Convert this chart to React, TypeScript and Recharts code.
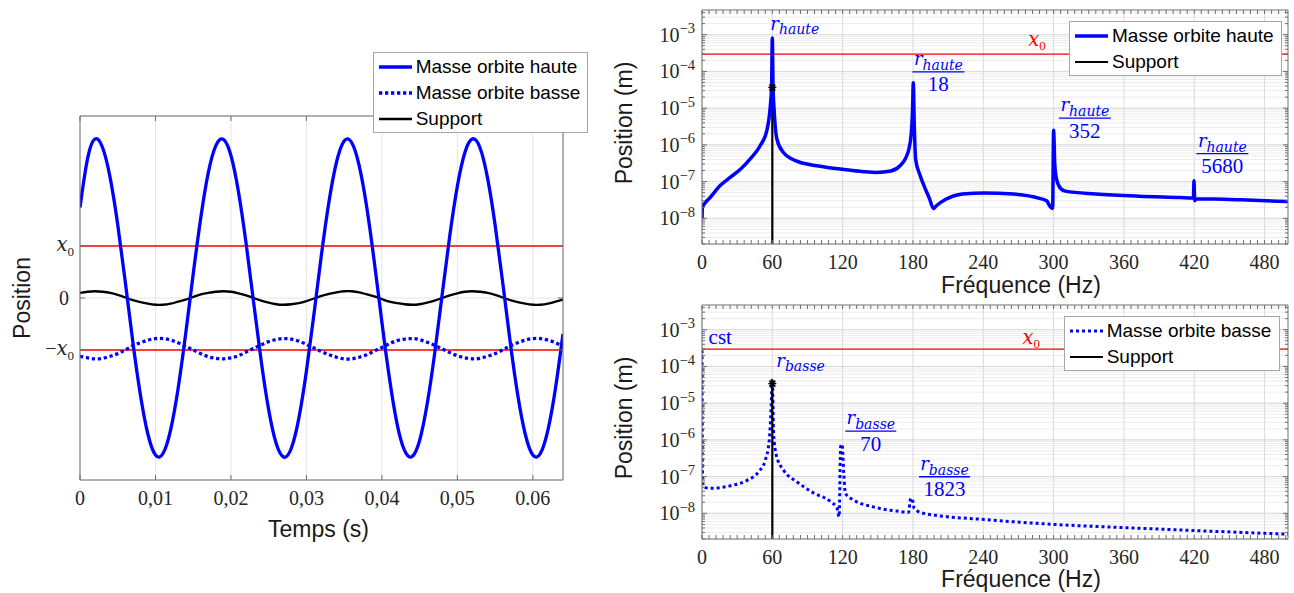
import React from "react";
import { LineChart, Line, XAxis, YAxis, CartesianGrid, ReferenceLine, ReferenceDot, Legend } from "recharts";

const BLUE = "#0000ff";
const RED = "#ff0000";
const AXIS = "#6e6e6e";
const TXT = "#262626";
const SANS = "'Liberation Sans', Arial, sans-serif";
const SERIF = "'Liberation Serif', 'Times New Roman', serif";
const MATH = "'DejaVu Serif', serif";

// ---- left panel: time (s), position in units of x0 ----
const tempsS = [
  0, 0.001, 0.002, 0.003, 0.004, 0.005, 0.006, 0.007, 0.008, 0.009,
  0.01, 0.011, 0.012, 0.013, 0.014, 0.015, 0.016, 0.017, 0.018, 0.019,
  0.02, 0.021, 0.022, 0.023, 0.024, 0.025, 0.026, 0.027, 0.028, 0.029,
  0.03, 0.031, 0.032, 0.033, 0.034, 0.035, 0.036, 0.037, 0.038, 0.039,
  0.04, 0.041, 0.042, 0.043, 0.044, 0.045, 0.046, 0.047, 0.048, 0.049,
  0.05, 0.051, 0.052, 0.053, 0.054, 0.055, 0.056, 0.057, 0.058, 0.059,
  0.06, 0.061, 0.062, 0.063, 0.064,
];
const hauteTemps = [
  1.74, 2.68, 3.06, 2.89, 2.31, 1.41, 0.31, -0.84, -1.86, -2.62,
  -3.02, -2.99, -2.54, -1.74, -0.69, 0.46, 1.54, 2.41, 2.93, 3.05,
  2.74, 2.04, 1.06, -0.08, -1.2, -2.15, -2.8, -3.06, -2.89, -2.31,
  -1.41, -0.31, 0.84, 1.86, 2.62, 3.02, 2.99, 2.54, 1.74, 0.69,
  -0.46, -1.54, -2.41, -2.93, -3.05, -2.74, -2.04, -1.06, 0.08, 1.2,
  2.15, 2.8, 3.06, 2.89, 2.31, 1.41, 0.31, -0.84, -1.86, -2.62,
  -3.02, -2.99, -2.54, -1.74, -0.69,
];
const basseTemps = [
  -1.12, -1.15, -1.17, -1.16, -1.12, -1.07, -1.0, -0.92, -0.86, -0.81,
  -0.78, -0.78, -0.81, -0.86, -0.93, -1.0, -1.07, -1.13, -1.16, -1.17,
  -1.15, -1.11, -1.04, -0.97, -0.9, -0.84, -0.8, -0.78, -0.79, -0.83,
  -0.89, -0.96, -1.03, -1.09, -1.14, -1.17, -1.17, -1.14, -1.09, -1.02,
  -0.95, -0.88, -0.82, -0.79, -0.78, -0.8, -0.85, -0.91, -0.98, -1.05,
  -1.11, -1.15, -1.17, -1.16, -1.12, -1.07, -1.0, -0.92, -0.86, -0.81,
  -0.78, -0.78, -0.81, -0.86, -0.93,
];
const supportTemps = [
  0.1, 0.12, 0.13, 0.12, 0.1, 0.06, 0.01, -0.04, -0.08, -0.11,
  -0.13, -0.13, -0.11, -0.07, -0.03, 0.02, 0.07, 0.1, 0.12, 0.13,
  0.12, 0.09, 0.05, 0.0, -0.05, -0.09, -0.12, -0.13, -0.12, -0.1,
  -0.06, -0.01, 0.04, 0.08, 0.11, 0.13, 0.13, 0.11, 0.07, 0.03,
  -0.02, -0.07, -0.1, -0.12, -0.13, -0.12, -0.09, -0.05, 0.0, 0.05,
  0.09, 0.12, 0.13, 0.12, 0.1, 0.06, 0.01, -0.04, -0.08, -0.11,
  -0.13, -0.13, -0.11, -0.07, -0.03,
];
const tempsTicks = [0, 0.01, 0.02, 0.03, 0.04, 0.05, 0.06];
const tempsTickLabels = ["0", "0,01", "0,02", "0,03", "0,04", "0,05", "0.06"];
const posTicks = [-1, 0, 1];
const legendTemps = ["Masse orbite haute", "Masse orbite basse", "Support"];

// ---- right panels: frequency (Hz), position (m) ----
const hauteFreqHz = [
  0, 0.4, 3, 7, 15.5, 24, 33, 41, 49.5, 55.5, 58.3,
  59.4, 60, 60.6, 61.5, 64, 69.5, 81, 98, 118, 138,
  149, 161, 169, 174, 176.5, 178.5, 179.6, 180.3, 181, 182.3,
  186, 190, 194, 197.5, 200, 208, 222, 241, 266, 288, 294,
  297.5, 299.2, 300, 301, 302.5, 306, 310, 336, 373, 408,
  418.5, 419.3, 419.8, 420.4, 421.5, 460, 500,
];
const hauteAmpM = [
  1.0e-8, 2.0e-8, 2.7e-8, 3.7e-8, 7.8e-8, 1.3e-7, 2.2e-7, 4.1e-7, 9.3e-7, 2.6e-6, 1.15e-5,
  4.0e-5, 8.1e-4, 4.0e-5, 9.3e-6, 1.4e-6, 6.2e-7, 3.6e-7, 2.7e-7, 2.2e-7, 1.86e-7,
  1.78e-7, 1.95e-7, 2.7e-7, 4.5e-7, 7.6e-7, 2.0e-6, 8.0e-6, 4.9e-5, 5.0e-6, 4.0e-7,
  1.5e-7, 7.0e-8, 3.5e-8, 1.86e-8, 2.2e-8, 3.3e-8, 4.6e-8, 4.9e-8, 4.6e-8, 3.5e-8, 3.0e-8,
  2.0e-8, 1.86e-8, 2.5e-6, 3.0e-7, 1.17e-7, 6.5e-8, 5.5e-8, 4.6e-8, 4.0e-8, 3.7e-8,
  3.6e-8, 3.6e-8, 1.05e-7, 3.0e-8, 3.4e-8, 3.2e-8, 2.85e-8,
];
const basseFreqHz = [
  0, 0.5, 1.4, 7, 24, 38.5, 48.3, 54, 57.4, 58.9,
  60, 61.1, 63.4, 69.6, 81, 95, 109.5, 115.2, 117, 118.3,
  119.5, 121, 122.3, 129.4, 146, 166, 176.3, 177.7, 179.2, 181,
  189, 246, 300, 358, 420, 500,
];
const basseAmpM = [
  2.75e-4, 7.2e-8, 5.2e-8, 4.8e-8, 5.6e-8, 7.9e-8, 1.35e-7, 2.8e-7, 9.8e-7, 6.5e-6,
  4.5e-5, 1.5e-6, 3.8e-7, 1.5e-7, 7.2e-8, 3.6e-8, 2.1e-8, 1.38e-8, 8.1e-9, 6.5e-7,
  7.6e-7, 1.23e-7, 3.5e-8, 2.3e-8, 1.5e-8, 1.15e-8, 1.07e-8, 2.3e-8, 2.6e-8, 1.38e-8,
  1.0e-8, 6.6e-9, 5.0e-9, 4.1e-9, 3.4e-9, 2.7e-9,
];
// support stem at 60 Hz (runs off the bottom of the axes)
const supportFreqHz = [60, 60];
const supportHauteM = [3.66e-5, 1e-9];
const supportBasseM = [3.4e-5, 1e-9];
const x0Metres = 2.95e-4;
const freqTicks = [0, 60, 120, 180, 240, 300, 360, 420, 480];
const decades = [-8, -7, -6, -5, -4, -3];
const legendHaute = ["Masse orbite haute", "Support"];
const legendBasse = ["Masse orbite basse", "Support"];

const hauteNotes = [
  { f: 58.3, v: 1.37e-3, kind: "r", sub: "haute" },
  { f: 179.5, v: 9.7e-5, kind: "frac", sub: "haute", den: "18" },
  { f: 304.5, v: 5.37e-6, kind: "frac", sub: "haute", den: "352" },
  { f: 421.8, v: 5.8e-7, kind: "frac", sub: "haute", den: "5680" },
  { f: 278.4, v: 4.82e-4, kind: "x0" },
];
const basseNotes = [
  { f: 5.6, v: 4.17e-4, kind: "cst" },
  { f: 63.4, v: 9.64e-5, kind: "r", sub: "basse" },
  { f: 122.3, v: 1.72e-6, kind: "frac", sub: "basse", den: "70" },
  { f: 185.2, v: 9.9e-8, kind: "frac", sub: "basse", den: "1823" },
  { f: 273.5, v: 4.17e-4, kind: "x0" },
];

const timeData = tempsS.map((t, i) => ({ t, haute: hauteTemps[i], basse: basseTemps[i], support: supportTemps[i] }));
const hauteData = hauteFreqHz.map((f, i) => ({ f, v: hauteAmpM[i] }));
const basseData = basseFreqHz.map((f, i) => ({ f, v: basseAmpM[i] }));
const supportHauteData = supportFreqHz.map((f, i) => ({ f, v: supportHauteM[i] }));
const supportBasseData = supportFreqHz.map((f, i) => ({ f, v: supportBasseM[i] }));

const Y_DOMAIN = [2e-9, 4.7e-3];
const freqMinor = Array.from({ length: 84 }, (_, i) => i * 6);
const logMinor: number[] = [];
for (let e = -9; e <= -3; e++) {
  for (let m = 1; m <= 9; m++) {
    const v = m * Math.pow(10, e);
    if (v >= 1.99e-9 && v <= 4.7e-3) logMinor.push(v);
  }
}
const decadeValues = decades.map((e) => Math.pow(10, e));

// ---- ticks ----
function TimeXTick(props: any) {
  const { x, y, payload, orient } = props;
  const dir = orient === "top" ? 1 : -1;
  const i = tempsTicks.indexOf(payload.value);
  return (
    <g>
      <line x1={x} x2={x} y1={y} y2={y + dir * 5} stroke={AXIS} />
      {orient === "bottom" && i >= 0 && (
        <text x={x} y={y + 25} textAnchor="middle" fontFamily={SERIF} fontSize={20} fill={TXT}>
          {tempsTickLabels[i]}
        </text>
      )}
    </g>
  );
}

function PosTick(props: any) {
  const { x, y, payload, orient } = props;
  const v = payload.value;
  const dir = orient === "left" ? 1 : -1;
  let lab = null;
  if (orient === "left") {
    lab =
      v === 0 ? (
        <text x={x - 11} y={y + 6.5} textAnchor="end" fontFamily={SERIF} fontSize={20} fill={TXT}>0</text>
      ) : (
        <text x={x - 6} y={y + 5} textAnchor="end" fill={TXT}>
          {v < 0 && <tspan fontFamily={SERIF} fontSize={20}>{"\u2212"}</tspan>}
          <tspan fontFamily={MATH} fontStyle="italic" fontSize={19.5}>x</tspan>
          <tspan fontFamily={SERIF} fontSize={13} dy={4.5}>0</tspan>
        </text>
      );
  }
  return (
    <g>
      <line x1={x} x2={x + dir * 5} y1={y} y2={y} stroke={AXIS} />
      {lab}
    </g>
  );
}

function FreqTick(props: any) {
  const { x, y, payload, orient } = props;
  const v = payload.value;
  const dir = orient === "top" ? 1 : -1;
  const lab = orient === "bottom" && freqTicks.includes(v);
  return (
    <g>
      <line x1={x} x2={x} y1={y} y2={y + dir * 4} stroke={AXIS} />
      {lab && (
        <text x={x} y={y + 25} textAnchor="middle" fontFamily={SERIF} fontSize={20} fill={TXT}>{v}</text>
      )}
    </g>
  );
}

function LogTick(props: any) {
  const { x, y, payload, orient } = props;
  const v = payload.value;
  const dir = orient === "left" ? 1 : -1;
  const lg = Math.log10(v);
  const e = Math.round(lg);
  const isDecade = Math.abs(lg - e) < 1e-6;
  const lab = orient === "left" && isDecade && decades.includes(e);
  return (
    <g>
      <line x1={x} x2={x + dir * (isDecade ? 5 : 3)} y1={y} y2={y} stroke={AXIS} />
      {lab && (
        <text x={x - 7} y={y + 7} textAnchor="end" fontFamily={SERIF} fontSize={20} fill={TXT}>
          10<tspan dy={-8.5} fontSize={14.5}>{"\u2212" + Math.abs(e)}</tspan>
        </text>
      )}
    </g>
  );
}

// ---- legend ----
function LegendBox(props: any) {
  const { payload, order, width } = props;
  const items = [...(payload || [])]
    .filter((p: any) => order.includes(p.value))
    .sort((a: any, b: any) => order.indexOf(a.value) - order.indexOf(b.value));
  return (
    <div style={{ width, boxSizing: "border-box", border: "1px solid #a6a6a6", background: "#fff", paddingTop: 1 }}>
      {items.map((p: any) => (
        <div key={p.value} style={{ display: "flex", alignItems: "center", height: 26 }}>
          <svg width={33} height={10} style={{ marginLeft: 5, marginRight: 4, flex: "none" }}>
            <line x1={0} x2={33} y1={5} y2={5} stroke={p.color}
              strokeWidth={p.payload?.strokeWidth} strokeDasharray={p.payload?.strokeDasharray} />
          </svg>
          <span style={{ fontFamily: SANS, fontSize: 19, color: "#000", whiteSpace: "nowrap" }}>{p.value}</span>
        </div>
      ))}
    </div>
  );
}

// ---- annotations ----
function Note(props: any) {
  const { viewBox, kind, sub, den } = props;
  const x = viewBox.x;
  const y = viewBox.y;
  if (kind === "frac") {
    const w = sub === "haute" ? 52 : 51;
    const cx = x + w / 2;
    return (
      <g>
        <text x={cx} y={y - 7} textAnchor="middle" fill={BLUE}>
          <tspan fontFamily={MATH} fontStyle="italic" fontSize={18}>r</tspan>
          <tspan fontFamily={MATH} fontStyle="italic" fontSize={14} dy={5}>{sub}</tspan>
        </text>
        <line x1={x} x2={x + w} y1={y} y2={y} stroke={BLUE} strokeWidth={1.3} />
        <text x={cx} y={y + 19.5} textAnchor="middle" fontFamily={SERIF} fontSize={21} fill={BLUE}>{den}</text>
      </g>
    );
  }
  if (kind === "r") {
    return (
      <text x={x} y={y} fill={BLUE}>
        <tspan fontFamily={MATH} fontStyle="italic" fontSize={18}>r</tspan>
        <tspan fontFamily={MATH} fontStyle="italic" fontSize={14} dy={4.5}>{sub}</tspan>
      </text>
    );
  }
  if (kind === "x0") {
    return (
      <text x={x} y={y} fill={RED}>
        <tspan fontFamily={MATH} fontStyle="italic" fontSize={19.5}>x</tspan>
        <tspan fontFamily={SERIF} fontSize={13} dy={4}>0</tspan>
      </text>
    );
  }
  return (
    <text x={x} y={y} fill={BLUE} fontFamily={SERIF} fontSize={21}>cst</text>
  );
}

const starDot = (p: any) =>
  p.index === 0 ? (
    <g key={`star-${p.index}`} stroke="#000" strokeWidth={1.5}>
      <line x1={p.cx - 4} x2={p.cx + 4} y1={p.cy} y2={p.cy} />
      <line x1={p.cx} x2={p.cx} y1={p.cy - 4} y2={p.cy + 4} />
      <line x1={p.cx - 3} x2={p.cx + 3} y1={p.cy - 3} y2={p.cy + 3} />
      <line x1={p.cx - 3} x2={p.cx + 3} y1={p.cy + 3} y2={p.cy - 3} />
    </g>
  ) : (
    <g key={`star-${p.index}`} />
  );

function TimePanel() {
  return (
    <LineChart width={600} height={593} data={timeData} margin={{ top: 115, right: 36, bottom: 53, left: 0 }}>
      <CartesianGrid stroke="#e6e6e6" />
      <XAxis dataKey="t" type="number" domain={[0, 0.064]} allowDataOverflow ticks={tempsTicks} interval={0}
        height={60} tickSize={0} tickMargin={0} tickLine={false} axisLine={{ stroke: AXIS }}
        tick={<TimeXTick orient="bottom" />}
        label={{
          content: (p: any) => (
            <text x={p.viewBox.x + p.viewBox.width / 2 - 3} y={p.viewBox.y + 56.5} textAnchor="middle"
              fontFamily={SANS} fontSize={23} fill="#1a1a1a">Temps (s)</text>
          ),
        }} />
      <XAxis xAxisId="top" orientation="top" dataKey="t" type="number" domain={[0, 0.064]} allowDataOverflow
        ticks={tempsTicks} interval={0} height={1} tickSize={0} tickMargin={0} tickLine={false}
        axisLine={{ stroke: AXIS }} tick={<TimeXTick orient="top" />} />
      <YAxis type="number" domain={[-3.5, 3.5]} allowDataOverflow ticks={posTicks} interval={0} width={80}
        tickSize={0} tickMargin={0} tickLine={false} axisLine={{ stroke: AXIS }} tick={<PosTick orient="left" />}
        label={{
          content: (p: any) => {
            const cy = p.viewBox.y + p.viewBox.height / 2;
            return (
              <text x={30} y={cy} transform={`rotate(-90 30 ${cy})`} textAnchor="middle"
                fontFamily={SANS} fontSize={23} fill="#1a1a1a">Position</text>
            );
          },
        }} />
      <YAxis yAxisId="r" orientation="right" type="number" domain={[-3.5, 3.5]} allowDataOverflow ticks={posTicks}
        interval={0} width={1} tickSize={0} tickMargin={0} tickLine={false} axisLine={{ stroke: AXIS }}
        tick={<PosTick orient="right" />} />
      <ReferenceLine y={1} stroke={RED} strokeWidth={1.4} />
      <ReferenceLine y={-1} stroke={RED} strokeWidth={1.4} />
      <Line dataKey="support" name={legendTemps[2]} type="natural" stroke="#000" strokeWidth={2.3} dot={false}
        isAnimationActive={false} />
      <Line dataKey="basse" name={legendTemps[1]} type="natural" stroke={BLUE} strokeWidth={3.3}
        strokeDasharray="3.3 2.7" dot={false} isAnimationActive={false} />
      <Line dataKey="haute" name={legendTemps[0]} type="natural" stroke={BLUE} strokeWidth={3.3} dot={false}
        isAnimationActive={false} />
      <Legend layout="vertical" align="center" verticalAlign="middle" wrapperStyle={{ left: 372.7, top: 51.7 }}
        content={<LegendBox order={legendTemps} width={215} />} />
    </LineChart>
  );
}

function FreqPanel(props: any) {
  const { height, mainData, mainName, dashed, supportData, notes, order, legendLeft, legendWidth, xTitleDy } = props;
  const plotBottom = height - (height === 300 ? 56 : 54);
  return (
    <LineChart width={694} height={height} margin={{ top: 9, right: 5, bottom: 0, left: 0 }}>
      <CartesianGrid vertical={false} horizontalValues={logMinor} stroke="#ededed" />
      <CartesianGrid horizontalValues={decadeValues} verticalValues={freqTicks} stroke="#dadada" />
      <XAxis dataKey="f" type="number" domain={[0, 500]} allowDataOverflow ticks={freqMinor} interval={0}
        height={height - plotBottom} tickSize={0} tickMargin={0} tickLine={false} axisLine={{ stroke: AXIS }}
        tick={<FreqTick orient="bottom" />}
        label={{
          content: (p: any) => (
            <text x={p.viewBox.x + p.viewBox.width / 2 + 26} y={p.viewBox.y + xTitleDy} textAnchor="middle"
              fontFamily={SANS} fontSize={23} fill="#1a1a1a">Fréquence (Hz)</text>
          ),
        }} />
      <XAxis xAxisId="top" orientation="top" dataKey="f" type="number" domain={[0, 500]} allowDataOverflow
        ticks={freqMinor} interval={0} height={1} tickSize={0} tickMargin={0} tickLine={false}
        axisLine={{ stroke: AXIS }} tick={<FreqTick orient="top" />} />
      <YAxis scale="log" type="number" domain={Y_DOMAIN} allowDataOverflow ticks={logMinor} interval={0} width={102}
        tickSize={0} tickMargin={0} tickLine={false} axisLine={{ stroke: AXIS }} tick={<LogTick orient="left" />}
        label={{
          content: (p: any) => {
            const cy = p.viewBox.y + p.viewBox.height / 2 - 4;
            return (
              <text x={32} y={cy} transform={`rotate(-90 32 ${cy})`} textAnchor="middle"
                fontFamily={SANS} fontSize={23} fill="#1a1a1a">Position (m)</text>
            );
          },
        }} />
      <YAxis yAxisId="r" orientation="right" scale="log" type="number" domain={Y_DOMAIN} allowDataOverflow
        ticks={logMinor} interval={0} width={1} tickSize={0} tickMargin={0} tickLine={false}
        axisLine={{ stroke: AXIS }} tick={<LogTick orient="right" />} />
      <ReferenceLine y={x0Metres} stroke={RED} strokeWidth={1.3} />
      {!dashed && (
        <Line data={supportData} dataKey="v" name="Support" stroke="#000" strokeWidth={2.2} dot={false}
          isAnimationActive={false} />
      )}
      <Line data={mainData} dataKey="v" name={mainName} type="monotone" stroke={BLUE}
        strokeWidth={dashed ? 3 : 3.5} strokeDasharray={dashed ? "3 3" : undefined} dot={false}
        isAnimationActive={false} />
      {dashed && (
        <Line data={supportData} dataKey="v" name="Support" stroke="#000" strokeWidth={2.2} dot={false}
          isAnimationActive={false} />
      )}
      <Line data={supportData} dataKey="v" stroke="none" strokeWidth={0} dot={starDot} legendType="none"
        isAnimationActive={false} />
      {notes.map((n: any, i: number) => (
        <ReferenceDot key={i} x={n.f} y={n.v} r={0} fill="none" stroke="none"
          label={<Note kind={n.kind} sub={n.sub} den={n.den} />} />
      ))}
      <Legend layout="vertical" align="center" verticalAlign="middle"
        wrapperStyle={{ left: legendLeft, top: 20.7 }}
        content={<LegendBox order={order} width={legendWidth} />} />
    </LineChart>
  );
}

export default function App() {
  return (
    <div style={{ position: "absolute", left: 0, top: 0, width: 1294, height: 593, background: "#fff", overflow: "hidden" }}>
      <div style={{ position: "absolute", left: 0, top: 0 }}>
        <TimePanel />
      </div>
      <div style={{ position: "absolute", left: 600, top: 0 }}>
        <FreqPanel height={300} mainData={hauteData} mainName={legendHaute[0]} dashed={false}
          supportData={supportHauteData} notes={hauteNotes} order={legendHaute} legendLeft={469}
          legendWidth={213} xTitleDy={49} />
      </div>
      <div style={{ position: "absolute", left: 600, top: 295 }}>
        <FreqPanel height={298} mainData={basseData} mainName={legendBasse[0]} dashed={true}
          supportData={supportBasseData} notes={basseNotes} order={legendBasse} legendLeft={463.7}
          legendWidth={216} xTitleDy={47.5} />
      </div>
    </div>
  );
}
